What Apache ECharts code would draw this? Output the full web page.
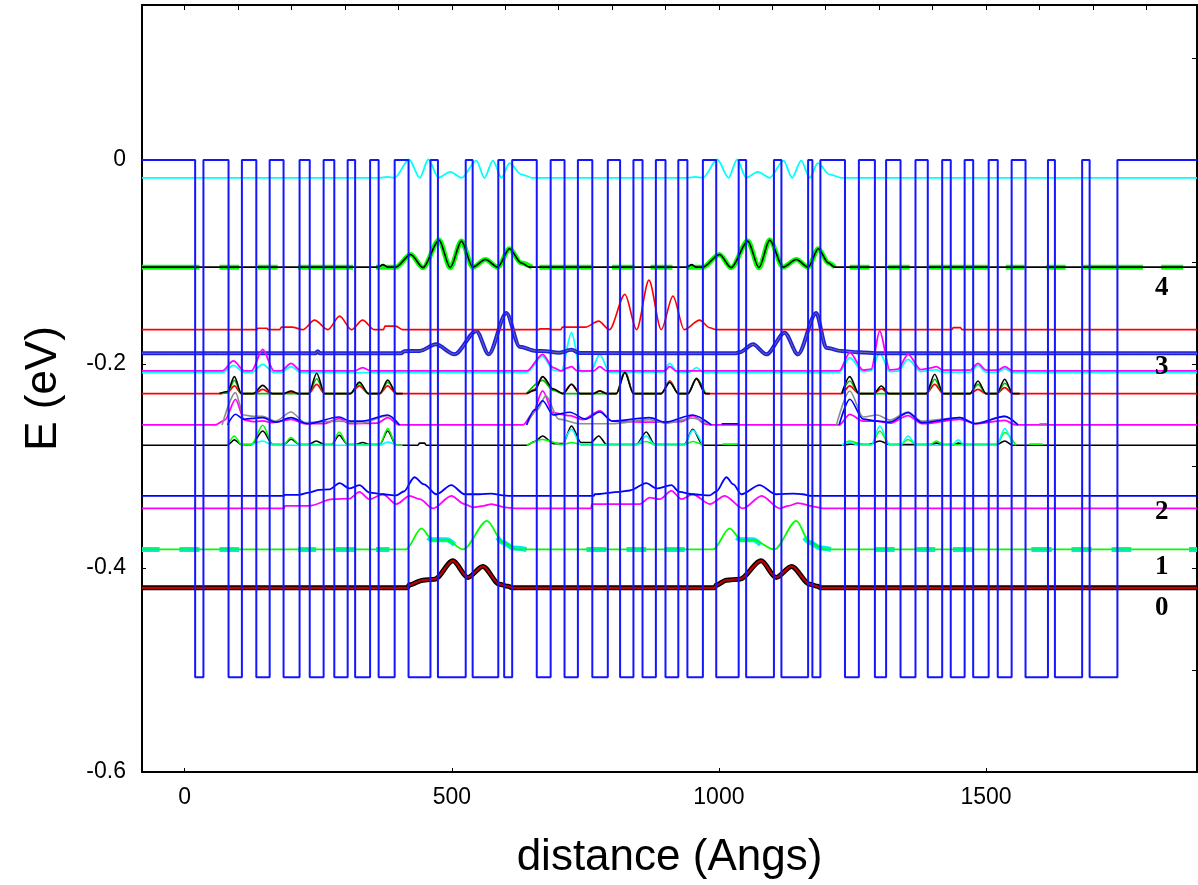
<!DOCTYPE html>
<html><head><meta charset="utf-8">
<script src="https://cdn.jsdelivr.net/npm/echarts@6/dist/echarts.min.js"></script>
<style>html,body{margin:0;padding:0;background:#fff}#c{width:1198px;height:885px}</style>
</head><body><div id="c"></div>
<script>
// ---------- axes ----------
const xRange = [-80, 1895];
const yRange = [-0.6, 0.152];
const xTickValues = [0, 500, 1000, 1500];
const xMinorTicks = [0,100,200,300,400,500,600,700,800,900,1000,1100,1200,1300,1400,1500,1600,1700,1800];
const yTickValues = [-0.6, -0.4, -0.2, 0];
const yMinorTicks = [-0.6,-0.5,-0.4,-0.3,-0.2,-0.1,0,0.1];

// ---------- conduction band profile ----------
const barrierTop = 0;
const wellBottom = -0.507;
const barrierEdges = [19.5,35,82,107,134,159,185,215,234,260,280,305,319,347,363,393,419,460,474,526,539,587,598,613,659,685,711,736,763,792,815,840,857,882,900,924,941,970,995,1037,1051,1103,1117,1167,1175,1190,1236,1262,1292,1313,1340,1368,1391,1418,1434,1460,1476,1505,1522,1548,1574,1616,1629,1680,1694,1746];

// ---------- level labels ----------
const levelLabels = ['0','1','2','3','4'];
const levelLabelE = [-0.4393,-0.3991,-0.3453,-0.2032,-0.1259];
const levelLabelX = 1829;

// ---------- wavefunctions ----------
const psiCyanTop = [[-80,-0.0174],[365,-0.0174],[379,-0.0166],[393,-0.0174],[420,0.0005],[440,-0.0174],[456,0.0005],[475,-0.0174],[497,-0.0116],[518,-0.0174],[546,-0.0005],[561,-0.0174],[577,-0.0005],[593,-0.0174],[608,-0.003],[630,-0.014],[650,-0.0174],
 [942,-0.0174],[956,-0.0166],[970,-0.0174],[997,0.0005],[1018,-0.0174],[1034,0.0005],[1051,-0.0174],[1073,-0.0116],[1095,-0.0174],[1121,-0.0005],[1137,-0.0174],[1154,-0.0005],[1170,-0.0174],[1185,-0.003],[1207,-0.014],[1229,-0.0174],[1895,-0.0174]];

const psiBlack4 = [[-80,-0.105],[362,-0.105],[371,-0.1025],[380,-0.105],[395,-0.105],[423,-0.0926],[446,-0.1055],[476,-0.0785],[497,-0.1055],[518,-0.0795],[539,-0.105],[563,-0.0975],[586,-0.105],[608,-0.087],[630,-0.101],[646,-0.105],
 [940,-0.105],[949,-0.1025],[957,-0.105],[970,-0.105],[1001,-0.0926],[1023,-0.1055],[1054,-0.0795],[1075,-0.1055],[1095,-0.0785],[1120,-0.105],[1145,-0.0975],[1167,-0.105],[1186,-0.087],[1205,-0.101],[1217,-0.105],[1895,-0.105]];
const green4Level = -0.105;
const green4Dashes = [[-80,27.5],[65,102],[137,174],[212,315],[358,390],[664,761],[800,842],[872,913],[1245,1282],[1317,1357],[1393,1504],[1537,1572],[1613,1649],[1682,1794],[1828,1869]];
const green4BumpsA = [[390,-0.105],[395,-0.105],[423,-0.0926],[446,-0.1055],[476,-0.0785],[497,-0.1055],[518,-0.0795],[539,-0.105],[563,-0.0975],[586,-0.105],[608,-0.087],[630,-0.101],[650,-0.105]];
const green4BumpsB = [[940,-0.105],[970,-0.105],[1001,-0.0926],[1023,-0.1055],[1054,-0.0795],[1075,-0.1055],[1095,-0.0785],[1120,-0.105],[1145,-0.0975],[1167,-0.105],[1186,-0.087],[1205,-0.101],[1217,-0.105]];

const psiRedA = [[-80,-0.1663],[135,-0.1663],[137,-0.165],[154,-0.165],[156,-0.1663],[178,-0.1663],[181,-0.1638],[201,-0.1638],[221,-0.1663],[243,-0.157],[268,-0.1663],[290,-0.153],[312,-0.1663],[333,-0.157],[355,-0.1663],[372,-0.1663],[375,-0.1628],[395,-0.1628],[408,-0.1663],
 [662,-0.1663],[665,-0.1655],[682,-0.1655],[685,-0.1663],[704,-0.1663],[707,-0.1638],[750,-0.1638],[775,-0.1579],[795,-0.1663],[824,-0.1317],[846,-0.1663],[869,-0.1177],[892,-0.1663],[914,-0.1334],[935,-0.1663],[964,-0.157],[983,-0.1645],[995,-0.1663],
 [1436,-0.1663],[1439,-0.1643],[1452,-0.1643],[1455,-0.1663],[1895,-0.1663]];

const psiBlueThick = [[-80,-0.1895],[245,-0.1895],[249,-0.1875],[253,-0.1895],[405,-0.1895],[411,-0.1875],[440,-0.1872],[470,-0.1807],[505,-0.1905],[546,-0.1676],[569,-0.1905],[602,-0.150],[627,-0.183],[658,-0.1872],[676,-0.1875],[700,-0.189],[724,-0.186],[740,-0.1893],
 [1030,-0.1895],[1039,-0.1885],[1064,-0.1807],[1089,-0.1905],[1123,-0.1693],[1148,-0.1905],[1182,-0.150],[1201,-0.184],[1229,-0.1872],[1262,-0.1885],[1300,-0.1895],[1895,-0.1895]];

const psiMagenta3 = [[-80,-0.2068],[70,-0.2068],[91,-0.197],[112,-0.2068],[125,-0.2068],[146,-0.1856],[167,-0.2068],[180,-0.2068],[199,-0.1993],[218,-0.2068],[318,-0.2068],[333,-0.2035],[348,-0.2068],
 [640,-0.2068],[670,-0.1905],[690,-0.2035],[705,-0.2068],[715,-0.204],[724,-0.2026],[735,-0.2068],[765,-0.2068],[777,-0.2026],[790,-0.2068],[898,-0.2068],[908,-0.2026],[920,-0.2068],
 [1225,-0.2068],[1245,-0.1889],[1270,-0.206],[1285,-0.205],[1301,-0.1676],[1320,-0.2058],[1335,-0.205],[1354,-0.1905],[1378,-0.2055],[1395,-0.204],[1407,-0.2026],[1420,-0.206],[1470,-0.206],[1485,-0.1993],[1500,-0.206],[1522,-0.206],[1535,-0.2026],[1550,-0.2068],[1895,-0.2068]];
const psiCyan3 = [[-80,-0.2084],[70,-0.2084],[91,-0.2013],[112,-0.2084],[125,-0.2084],[146,-0.2003],[167,-0.2084],[180,-0.2084],[199,-0.2026],[218,-0.2084],
 [640,-0.2084],[670,-0.1922],[690,-0.206],[705,-0.207],[724,-0.1693],[742,-0.2075],[760,-0.207],[777,-0.1905],[795,-0.208],[895,-0.208],[908,-0.1993],[922,-0.208],[945,-0.208],[958,-0.2035],[972,-0.2084],
 [1225,-0.2084],[1245,-0.1937],[1270,-0.2075],[1285,-0.2065],[1301,-0.1889],[1320,-0.2075],[1335,-0.207],[1354,-0.1954],[1378,-0.2075],[1395,-0.206],[1407,-0.2058],[1420,-0.208],[1470,-0.208],[1485,-0.2013],[1500,-0.208],[1522,-0.208],[1535,-0.2045],[1550,-0.2084],[1895,-0.2084]];

const psiRed229 = [[-80,-0.229],[65,-0.229],[80,-0.228],[93,-0.2215],[106,-0.229],[130,-0.229],[146,-0.2248],[162,-0.229],[185,-0.229],[199,-0.2275],[212,-0.229],[232,-0.229],[247,-0.2199],[262,-0.229],[310,-0.229],[327,-0.2215],[344,-0.229],[365,-0.229],[380,-0.2215],[396,-0.229],
 [640,-0.229],[655,-0.225],[670,-0.2124],[690,-0.225],[708,-0.229],[724,-0.2199],[740,-0.229],[765,-0.229],[777,-0.2264],[790,-0.229],[808,-0.229],[824,-0.2068],[840,-0.229],[892,-0.229],[908,-0.2166],[924,-0.229],[942,-0.229],[958,-0.2143],[975,-0.229],
 [1230,-0.229],[1245,-0.2215],[1262,-0.229],[1290,-0.229],[1304,-0.2241],[1318,-0.229],[1388,-0.229],[1404,-0.2199],[1420,-0.229],[1470,-0.229],[1485,-0.2248],[1500,-0.229],[1520,-0.229],[1535,-0.2231],[1550,-0.229],[1895,-0.229]];
const psiBlack229 = [[[65,-0.229],[80,-0.227],[93,-0.2124],[106,-0.229],[128,-0.229],[146,-0.2209],[164,-0.229],[185,-0.229],[199,-0.2264],[212,-0.229],[232,-0.229],[247,-0.2091],[262,-0.229],[310,-0.229],[327,-0.2176],[344,-0.229],[365,-0.229],[380,-0.2156],[396,-0.229],[408,-0.229]],
 [[640,-0.229],[655,-0.226],[670,-0.2124],[690,-0.2245],[708,-0.229],[724,-0.2199],[740,-0.229],[765,-0.229],[777,-0.2264],[790,-0.229],[808,-0.229],[824,-0.2084],[840,-0.229],[892,-0.229],[908,-0.218],[924,-0.229],[942,-0.229],[958,-0.2143],[975,-0.229],[983,-0.229]],
 [[1230,-0.229],[1245,-0.2124],[1262,-0.229],[1290,-0.229],[1304,-0.2215],[1318,-0.229],[1388,-0.229],[1404,-0.2101],[1420,-0.229],[1470,-0.229],[1485,-0.2166],[1500,-0.229],[1520,-0.229],[1535,-0.215],[1550,-0.229],[1563,-0.229]]];
const psiGreen229 = [[[65,-0.229],[80,-0.228],[93,-0.216],[106,-0.229],[232,-0.229],[247,-0.2145],[262,-0.229],[310,-0.229],[327,-0.219],[344,-0.229],[365,-0.229],[380,-0.218],[396,-0.229]],
 [[640,-0.229],[670,-0.216],[690,-0.226],[708,-0.229],[808,-0.229],[824,-0.2075],[840,-0.229],[892,-0.229],[908,-0.2172],[924,-0.229],[942,-0.229],[958,-0.214],[975,-0.229]],
 [[1230,-0.229],[1245,-0.2166],[1262,-0.229],[1388,-0.229],[1404,-0.2150],[1420,-0.229],[1470,-0.229],[1485,-0.2200],[1500,-0.229],[1520,-0.229],[1535,-0.2190],[1550,-0.229]]];

const psiMagenta260 = [[-80,-0.2597],[57,-0.2597],[75,-0.255],[95,-0.2346],[112,-0.255],[128,-0.2565],[146,-0.2558],[165,-0.2575],[199,-0.2542],[225,-0.2585],[260,-0.2585],[289,-0.2535],[310,-0.2585],[360,-0.258],[380,-0.2526],[402,-0.2597],
 [633,-0.2597],[650,-0.25],[670,-0.2264],[690,-0.248],[721,-0.2506],[745,-0.2545],[777,-0.246],[800,-0.256],[870,-0.257],[930,-0.2565],[951,-0.2506],[975,-0.259],[986,-0.2597],
 [1225,-0.2597],[1245,-0.2493],[1270,-0.256],[1296,-0.256],[1320,-0.258],[1354,-0.2506],[1380,-0.2585],[1451,-0.2542],[1480,-0.2585],[1535,-0.2552],[1555,-0.2597],[1895,-0.2597]];
const psiGray260 = [[[70,-0.2597],[95,-0.228],[110,-0.25],[128,-0.2512],[146,-0.2512],[170,-0.256],[199,-0.247],[225,-0.2575],[289,-0.256],[330,-0.258],[380,-0.2506],[402,-0.2597]],
 [[640,-0.2597],[660,-0.245],[676,-0.231],[700,-0.254],[740,-0.2585],[800,-0.2585],[870,-0.2545],[900,-0.258],[951,-0.253],[986,-0.2597]],
 [[1220,-0.2597],[1245,-0.2264],[1270,-0.252],[1296,-0.25],[1320,-0.255],[1354,-0.247],[1380,-0.256],[1451,-0.2525],[1480,-0.258],[1535,-0.2513],[1560,-0.2597]],
 [[1600,-0.2585],[1614,-0.2585]]];
const psiBlue260 = [[[80,-0.2597],[95,-0.2493],[110,-0.254],[146,-0.2526],[170,-0.257],[199,-0.2526],[230,-0.2585],[289,-0.252],[310,-0.256],[333,-0.256],[380,-0.25],[402,-0.2597]],
 [[640,-0.2597],[655,-0.245],[670,-0.236],[690,-0.25],[721,-0.2473],[750,-0.254],[777,-0.247],[800,-0.256],[870,-0.2526],[900,-0.257],[951,-0.25],[986,-0.2597]],
 [[1005,-0.2585],[1038,-0.2585]],
 [[1225,-0.2597],[1245,-0.2346],[1270,-0.254],[1296,-0.256],[1320,-0.257],[1354,-0.2477],[1380,-0.2575],[1451,-0.2526],[1480,-0.2585],[1535,-0.2513],[1560,-0.2597]]];

const psiBlack280 = [[-80,-0.2796],[80,-0.2796],[93,-0.2744],[106,-0.279],[125,-0.279],[146,-0.2656],[165,-0.279],[185,-0.279],[199,-0.2737],[215,-0.279],[232,-0.279],[246,-0.2754],[262,-0.279],[275,-0.279],[289,-0.2698],[305,-0.279],[320,-0.279],[333,-0.277],[346,-0.279],[365,-0.279],[380,-0.2656],[396,-0.2796],[436,-0.2796],[440,-0.2776],[449,-0.2776],[452,-0.2796],
 [640,-0.2796],[655,-0.276],[670,-0.2705],[690,-0.278],[708,-0.278],[724,-0.2607],[742,-0.277],[760,-0.277],[775,-0.2705],[790,-0.279],[845,-0.279],[864,-0.2666],[880,-0.279],[935,-0.279],[951,-0.264],[970,-0.2796],
 [1230,-0.2796],[1245,-0.2785],[1280,-0.279],[1301,-0.2754],[1320,-0.279],[1395,-0.279],[1407,-0.2776],[1420,-0.279],[1440,-0.279],[1448,-0.2776],[1460,-0.279],[1520,-0.279],[1535,-0.2754],[1550,-0.2796],[1895,-0.2796]];
const psiGreen280 = [[[80,-0.2796],[93,-0.2705],[106,-0.279],[125,-0.279],[146,-0.26],[165,-0.279],[185,-0.279],[199,-0.272],[215,-0.279],[275,-0.279],[289,-0.2666],[305,-0.279],[365,-0.279],[380,-0.2633],[396,-0.2796],[408,-0.2796]],
 [[640,-0.2796],[670,-0.274],[708,-0.279],[724,-0.277],[742,-0.279],[845,-0.279],[864,-0.276],[880,-0.279],[935,-0.279],[951,-0.276],[970,-0.2796]],
 [[1007,-0.2785],[1038,-0.2785]],
 [[1230,-0.2796],[1245,-0.2754],[1270,-0.279],[1285,-0.279],[1301,-0.2656],[1320,-0.279],[1340,-0.279],[1354,-0.274],[1370,-0.279],[1395,-0.279],[1407,-0.2754],[1420,-0.279],[1520,-0.279],[1535,-0.2672],[1556,-0.2796]],
 [[1581,-0.2785],[1606,-0.2785]]];
const psiCyan280 = [[[125,-0.2796],[146,-0.2754],[165,-0.2796],[365,-0.2796],[380,-0.2766],[396,-0.2796]],
 [[708,-0.2796],[724,-0.264],[742,-0.2796],[845,-0.2796],[864,-0.2705],[880,-0.2796],[935,-0.2796],[951,-0.265],[970,-0.2796]],
 [[1230,-0.2796],[1245,-0.277],[1262,-0.2796],[1285,-0.2796],[1301,-0.2607],[1320,-0.2796],[1340,-0.2796],[1354,-0.2705],[1370,-0.2796],[1435,-0.2796],[1448,-0.2744],[1460,-0.2796],[1520,-0.2796],[1535,-0.2633],[1550,-0.2796]]];

const psiBlue2 = [[-80,-0.3293],[186,-0.3293],[187,-0.3283],[214,-0.3283],[233,-0.326],[252,-0.3233],[270,-0.323],[290,-0.3168],[308,-0.322],[327,-0.3188],[346,-0.326],[371,-0.3277],[396,-0.3287],[410,-0.325],[430,-0.311],[448,-0.318],[471,-0.3277],[499,-0.3188],[524,-0.3277],[552,-0.3277],[574,-0.327],[595,-0.3287],[608,-0.3293],
 [766,-0.3293],[767,-0.3277],[814,-0.3254],[833,-0.324],[864,-0.3168],[883,-0.322],[911,-0.3188],[926,-0.3254],[951,-0.3277],[983,-0.3287],[995,-0.325],[1014,-0.311],[1027,-0.318],[1042,-0.3277],[1076,-0.3188],[1107,-0.3277],[1139,-0.327],[1157,-0.3277],[1173,-0.3293],[1895,-0.3293]];
const psiMagenta2 = [[-80,-0.3416],[186,-0.3416],[187,-0.339],[233,-0.339],[277,-0.3325],[308,-0.332],[327,-0.3254],[346,-0.3325],[371,-0.3277],[396,-0.3373],[421,-0.3293],[440,-0.3325],[465,-0.3416],[499,-0.3293],[524,-0.3373],[540,-0.3405],[560,-0.339],[574,-0.3373],[600,-0.3405],[618,-0.3416],
 [761,-0.3416],[762,-0.3373],[814,-0.3373],[852,-0.3373],[870,-0.3309],[889,-0.3325],[911,-0.3244],[930,-0.3325],[951,-0.3277],[983,-0.3373],[1011,-0.3293],[1045,-0.3416],[1080,-0.3293],[1114,-0.3416],[1130,-0.339],[1148,-0.3364],[1180,-0.34],[1195,-0.3416],[1895,-0.3416]];

const psiGreen1 = [[-80,-0.3818],[414,-0.3818],[443,-0.3612],[464,-0.3724],[490,-0.3724],[521,-0.3818],[566,-0.3538],[596,-0.375],[621,-0.3818],[989,-0.3818],[1020,-0.3612],[1042,-0.3724],[1064,-0.3724],[1104,-0.3818],[1145,-0.3538],[1170,-0.375],[1198,-0.3818],[1895,-0.3818]];
const cyan1Level = -0.3818;
const cyan1Dashes = [[-80,-47],[-10,27.5],[65,102],[212,246],[283,321],[358,383],[752,789],[827,864],[898,936],[1292,1329],[1370,1405],[1438,1475],[1585,1623],[1660,1698],[1735,1772],[1880,1895]];
const cyan1Bumps = [[[455,-0.3700],[464,-0.3724],[490,-0.3724],[505,-0.3770]],[[585,-0.3700],[596,-0.375],[615,-0.3805],[640,-0.3818]],
 [[1033,-0.3700],[1042,-0.3724],[1064,-0.3724],[1078,-0.3770]],[[1160,-0.3700],[1170,-0.375],[1190,-0.3805],[1210,-0.3818]]];

const psiGround = [[-80,-0.4194],[417,-0.4194],[420,-0.4167],[446,-0.4119],[468,-0.4109],[502,-0.393],[530,-0.4092],[558,-0.3984],[589,-0.4158],[605,-0.418],[614,-0.4194],
 [992,-0.4194],[995,-0.4167],[1014,-0.4119],[1039,-0.4109],[1079,-0.393],[1107,-0.4092],[1136,-0.3984],[1170,-0.4158],[1185,-0.418],[1190,-0.4194],[1895,-0.4194]];

// ---------- helpers (build library data from the arrays) ----------
function stepProfile(edges){
  const d=[[xRange[0],barrierTop]]; let lvl=barrierTop;
  edges.forEach(e=>{ d.push([e,lvl]); lvl = (lvl===barrierTop)?wellBottom:barrierTop; d.push([e,lvl]); });
  d.push([xRange[1],lvl]); return d;
}
function dashData(segs,E){ const d=[]; segs.forEach(s=>{ d.push([s[0],E],[s[1],E],[s[1],'-']); }); return d; }
function joinGroups(groups){ const d=[]; groups.forEach(g=>{ g.forEach(p=>d.push(p)); d.push([g[g.length-1][0],'-']); }); return d; }

const series=[];
function ln(data,color,width,smooth,z){
  series.push({type:'line',data:data,showSymbol:false,symbol:'none',smooth:smooth?0.3:false,smoothMonotone:'x',
    connectNulls:false,silent:true,z:z||2,lineStyle:{color:color,width:width},animation:false});
}

// ground state (black border + dark red)
ln(psiGround,'#000000',5,true,2);
ln(psiGround,'#c00000',2.2,true,3);
// level 1
ln(dashData(cyan1Dashes,cyan1Level),'#00e8f0',5,false,2);
ln(joinGroups(cyan1Bumps),'#00e8f0',5,true,2);
ln(psiGreen1,'#00ff00',1.8,true,3);
// level 2
ln(psiMagenta2,'#ff00ff',1.8,true,2);
ln(psiBlue2,'#0000ff',1.8,true,3);
// level 3 band
ln(psiBlack280,'#000000',1.6,true,2);
ln(joinGroups(psiGreen280),'#00ff00',1.6,true,3);
ln(joinGroups(psiCyan280),'#00ffff',1.6,true,3);
ln(psiMagenta260,'#ff00ff',1.8,true,2);
ln(joinGroups(psiGray260),'#8c8c8c',1.6,true,3);
ln(joinGroups(psiBlue260),'#0000ff',1.6,true,3);
ln(psiRed229,'#ff0000',1.8,true,2);
ln(joinGroups(psiGreen229),'#00c000',1.6,true,3);
ln(joinGroups(psiBlack229),'#000000',1.6,true,4);
ln(psiCyan3,'#00ffff',1.8,true,2);
ln(psiMagenta3,'#ff00ff',1.8,true,3);
ln(psiBlueThick,'#2020e0',4,true,2);
ln(psiBlueThick,'#707090',1,true,3);
ln(psiRedA,'#ff0000',1.6,true,2);
// level 4
ln(dashData(green4Dashes,green4Level),'#00ff00',5,false,2);
ln(green4BumpsA,'#00ff00',5,true,2);
ln(green4BumpsB,'#00ff00',5,true,2);
ln(psiBlack4,'#000000',1.6,true,3);
// top level
ln(psiCyanTop,'#00ffff',1.8,true,2);
// potential profile
series.push({type:'line',data:stepProfile(barrierEdges),showSymbol:false,symbol:'none',silent:true,z:6,
  lineStyle:{color:'#1515ff',width:2},animation:false});
// level labels
series.push({type:'scatter',silent:true,symbolSize:1,z:7,itemStyle:{opacity:0},
  data: levelLabels.map((t,i)=>({value:[levelLabelX,levelLabelE[i]],name:t})),
  label:{show:true,position:'inside',formatter:p=>p.name,fontFamily:'Liberation Serif',fontWeight:'bold',fontSize:27,
    color:'#000000',opacity:1,textBorderWidth:0,textBorderColor:'transparent'}});

const axisLineStyle={color:'#000',width:2};
const option={
  animation:false,
  backgroundColor:'#ffffff',
  grid:{left:142,right:1,top:5,bottom:112},
  xAxis:[
    {type:'value',min:xRange[0],max:xRange[1],position:'bottom',
     axisLine:{show:true,onZero:false,lineStyle:axisLineStyle},
     axisTick:{show:true,inside:true,length:4,customValues:xTickValues,lineStyle:{color:'#000'}},
     axisLabel:{customValues:xTickValues,fontSize:23,color:'#000',margin:14,fontFamily:'Liberation Sans',
       formatter:v=>String(v)},
     splitLine:{show:false},
     name:'distance (Angs)',nameLocation:'middle',nameGap:64,
     nameTextStyle:{fontSize:44,color:'#000',fontFamily:'Liberation Sans'}},
    {type:'value',min:xRange[0],max:xRange[1],position:'top',
     axisLine:{show:true,onZero:false,lineStyle:axisLineStyle},
     axisTick:{show:true,inside:true,length:5,customValues:xMinorTicks,lineStyle:{color:'#000'}},
     axisLabel:{show:false},splitLine:{show:false}}
  ],
  yAxis:[
    {type:'value',min:yRange[0],max:yRange[1],position:'left',
     axisLine:{show:true,onZero:false,lineStyle:axisLineStyle},
     axisTick:{show:true,inside:true,length:4,customValues:yTickValues,lineStyle:{color:'#000'}},
     axisLabel:{customValues:yTickValues,fontSize:23,color:'#000',margin:16,fontFamily:'Liberation Sans',
       formatter:v=>(Math.abs(v)<1e-9?'0':String(v))},
     splitLine:{show:false},
     name:'E (eV)',nameLocation:'middle',nameGap:76,nameRotate:90,
     nameTextStyle:{fontSize:44,color:'#000',fontFamily:'Liberation Sans'}},
    {type:'value',min:yRange[0],max:yRange[1],position:'right',
     axisLine:{show:true,onZero:false,lineStyle:axisLineStyle},
     axisTick:{show:true,inside:true,length:5,customValues:yMinorTicks,lineStyle:{color:'#000'}},
     axisLabel:{show:false},splitLine:{show:false}}
  ],
  series:series
};
const chart=echarts.init(document.getElementById('c'),null,{renderer:'canvas'});
chart.setOption(option);
</script></body></html>
